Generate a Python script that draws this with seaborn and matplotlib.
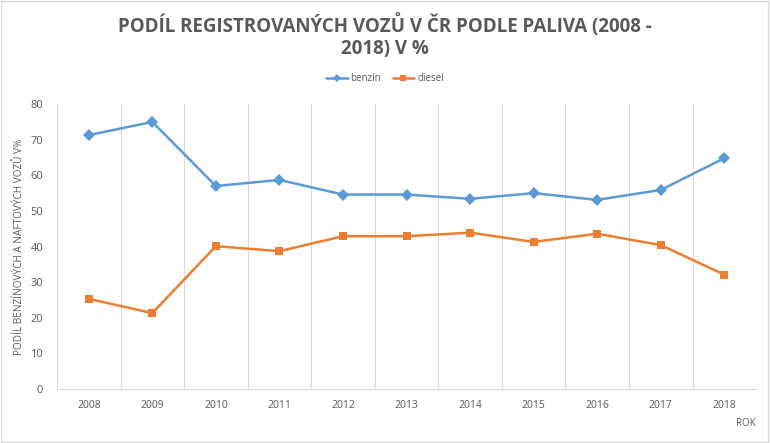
import matplotlib
matplotlib.use("Agg")
import matplotlib.pyplot as plt
import seaborn as sns
import pandas as pd
from matplotlib.lines import Line2D

years = ["2008", "2009", "2010", "2011", "2012", "2013", "2014", "2015", "2016", "2017", "2018"]
benzin = [71.3, 75.0, 57.0, 58.7, 54.6, 54.6, 53.4, 55.0, 53.1, 55.9, 64.8]
diesel = [25.3, 21.3, 40.1, 38.7, 42.9, 42.9, 43.9, 41.3, 43.6, 40.4, 32.1]
series_names = ["benzín", "diesel"]
yticks = [0, 10, 20, 30, 40, 50, 60, 70, 80]

sns.set_theme(style="white")
plt.rcParams['font.family'] = ['Open Sans', 'DejaVu Sans']

df = pd.DataFrame({
    "rok": years * 2,
    "hodnota": benzin + diesel,
    "palivo": [series_names[0]] * len(years) + [series_names[1]] * len(years),
})

BLUE = "#5B9BD5"
ORANGE = "#ED7D31"
TXT = "#595959"

fig = plt.figure(figsize=(7.7, 4.43), dpi=100)
ax = fig.add_axes([0.074, 0.122, 0.908, 0.643])

sns.lineplot(data=df, x="rok", y="hodnota", hue="palivo", style="palivo",
             palette=[BLUE, ORANGE], markers=["D", "s"], dashes=False,
             markersize=6, linewidth=1.8, markeredgewidth=0, ax=ax, legend=False)

ax.set_xlim(-0.5, len(years) - 0.5)
ax.set_ylim(0, 80)
ax.set_yticks(yticks)
ax.set_yticklabels([str(t) for t in yticks], fontsize=8, color=TXT)
ax.set_xticks(range(len(years)))
ax.set_xticklabels(years, fontsize=7.5, color=TXT)
ax.set_xticks([i - 0.5 for i in range(len(years) + 1)], minor=True)
ax.grid(which="minor", axis="x", color="#D9D9D9", linewidth=0.8)
ax.grid(which="major", axis="both", visible=False)
ax.tick_params(axis="both", which="both", length=0)
ax.tick_params(axis="x", pad=8)
ax.tick_params(axis="y", pad=10)
for s in ["top", "right", "left"]:
    ax.spines[s].set_visible(False)
ax.spines["bottom"].set_color("#D9D9D9")
ax.spines["bottom"].set_linewidth(0.8)

ax.set_xlabel("")
ax.set_ylabel("PODÍL BENZÍNOVÝCH A NAFTOVÝCH VOZŮ V%", fontsize=7.2, color=TXT, labelpad=4)
fig.text(0.969, 0.045, "ROK", fontsize=7, color=TXT, ha="center", va="center")

fig.text(0.5, 0.943, "PODÍL REGISTROVANÝCH VOZŮ V ČR PODLE PALIVA (2008 -",
         fontsize=13.5, fontweight="bold", color=TXT, ha="center", va="center")
fig.text(0.5, 0.889, "2018) V %",
         fontsize=13.5, fontweight="bold", color=TXT, ha="center", va="center")

handles = [Line2D([0], [0], color=BLUE, marker="D", markersize=4, linewidth=1.8, markeredgewidth=0),
           Line2D([0], [0], color=ORANGE, marker="s", markersize=4.5, linewidth=1.8, markeredgewidth=0)]
fig.legend(handles, series_names, loc="center", bbox_to_anchor=(0.5, 0.823), ncol=2,
           frameon=False, fontsize=7, labelcolor=TXT, handlelength=2.2, handletextpad=0.3,
           columnspacing=1.2)

fig.patches.append(plt.Rectangle((0.001, 0.002), 0.997, 0.996, transform=fig.transFigure,
                                 fill=False, edgecolor="#D9D9D9", linewidth=1))

fig.savefig("out.png", dpi=100, facecolor="white")
